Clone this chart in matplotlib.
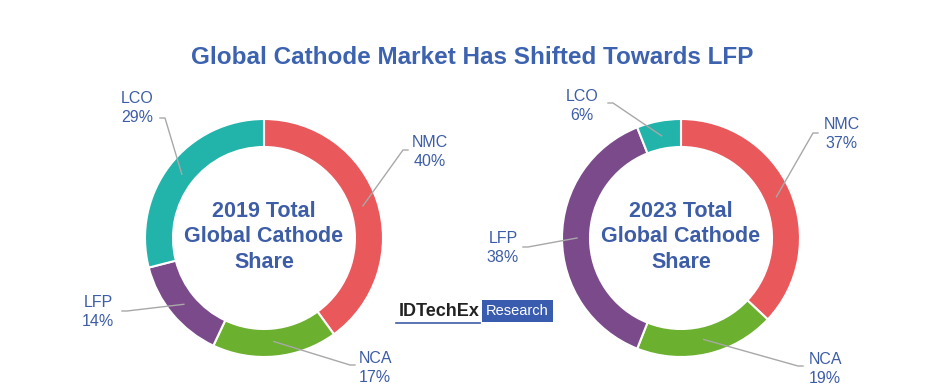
"""
Global cathode market share donuts, 2019 vs 2023.
Generates out.png.
"""
import numpy as np
import matplotlib.pyplot as plt
from matplotlib.patches import Rectangle

plt.rcParams['font.family'] = ['Liberation Sans', 'DejaVu Sans']

# Data
chemistries = ['NMC', 'NCA', 'LFP', 'LCO']
share_2019 = [40, 17, 14, 29]
share_2023 = [37, 19, 38, 6]
years = ['2019', '2023']

# Colors
c_nmc = '#E9585B'
c_nca = '#6BB02F'
c_lfp = '#7B4A8B'
c_lco = '#22B3AB'
seg_colors = [c_nmc, c_nca, c_lfp, c_lco]
c_text = '#3D5DA6'
c_title = '#3C62B0'
c_lead = '#A8A8A8'

W, H = 945, 389
fig = plt.figure(figsize=(W / 100, H / 100), dpi=100)
ax = fig.add_axes([0, 0, 1, 1])


def Y(y):
    # image pixel row -> data y
    return H - y


R = 119
RING = 28
centers = [(264, Y(238)), (681, Y(238))]

# label text position and leader line start (image pixels), per chemistry
label_pos = [
    {'NMC': (430, 152), 'NCA': (375, 368), 'LFP': (98, 312), 'LCO': (137, 108)},
    {'NMC': (842, 134), 'NCA': (825, 369), 'LFP': (503, 248), 'LCO': (582, 106)},
]
lead_start = [
    {'NMC': (408, 150), 'NCA': (355, 365), 'LFP': (122, 311), 'LCO': (160, 118)},
    {'NMC': (818, 133), 'NCA': (803, 366), 'LFP': (523, 247), 'LCO': (608, 103)},
]

for i, (shares, year) in enumerate(zip([share_2019, share_2023], years)):
    cx, cy = centers[i]
    wedges, _ = ax.pie(shares, colors=seg_colors, startangle=90, counterclock=False,
                       radius=R, center=(cx, cy), frame=True,
                       wedgeprops=dict(width=RING, edgecolor='white', linewidth=1.5))
    for w, name, val in zip(wedges, chemistries, shares):
        mid = np.deg2rad((w.theta1 + w.theta2) / 2)
        ex = cx + (R - 15) * np.cos(mid)
        ey = cy + (R - 15) * np.sin(mid)
        sx, sy = lead_start[i][name]
        # short elbow next to the label, then straight to the ring
        dx = -5 if sx > cx else 5
        ax.plot([sx, sx + dx, ex], [Y(sy), Y(sy), ey], color=c_lead, lw=1, zorder=3)
        lx, ly = label_pos[i][name]
        ax.text(lx, Y(ly), f'{name}\n{val}%', ha='center', va='center',
                fontsize=11.5, color=c_text, linespacing=1.36)
    ax.text(cx, cy + 1, f'{year} Total\nGlobal Cathode\nShare', ha='center', va='center',
            fontsize=15.5, weight='bold', color=c_text, linespacing=1.3)

# Title
ax.text(472, Y(57), 'Global Cathode Market Has Shifted Towards LFP', ha='center',
        va='center', fontsize=17.5, weight='bold', color=c_title)

# Logo
ax.text(480, Y(311), 'IDTechEx', ha='right', va='center', fontsize=13,
        weight='bold', color='#222222')
ax.plot([396, 480], [Y(323), Y(323)], color='#3D5DA6', lw=1.2)
ax.add_patch(Rectangle((482, Y(322)), 71, 22, facecolor='#3A5CAE', edgecolor='none'))
ax.text(517.5, Y(311), 'Research', ha='center', va='center', fontsize=10.5,
        color='white')

ax.set_xlim(0, W)
ax.set_ylim(0, H)
ax.set_aspect('equal')
ax.axis('off')

plt.savefig('out.png', dpi=100, facecolor='white')
plt.close()
